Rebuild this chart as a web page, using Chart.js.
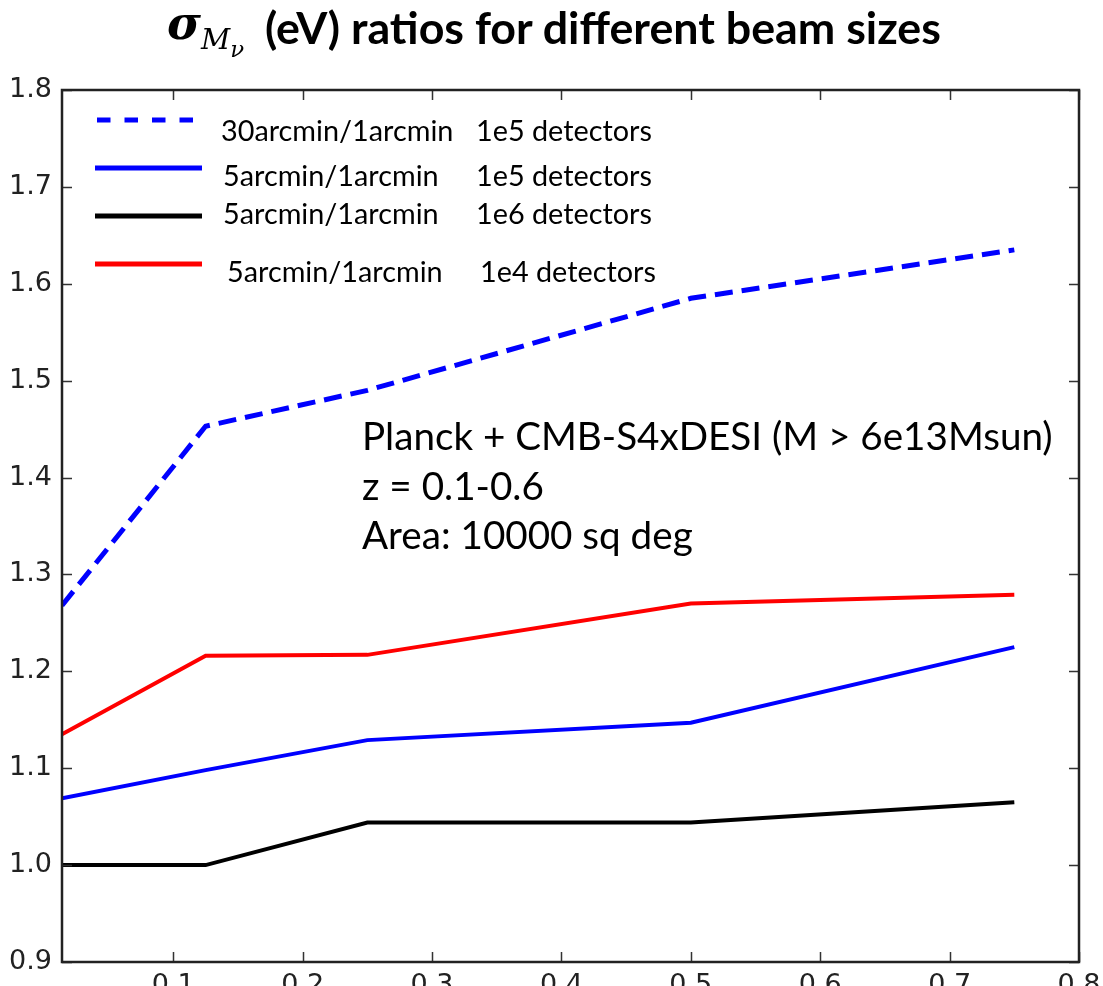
<!DOCTYPE html>
<html>
<head>
<meta charset="utf-8">
<script src="https://cdn.jsdelivr.net/npm/chart.js@4"></script>
<style>
  html, body { margin: 0; padding: 0; background: #fff; overflow: hidden; }
  #wrap { position: relative; width: 1103px; height: 1010px; }
  #title { position: absolute; left: 0; top: 0; width: 1103px; height: 70px; font-family: Lato, sans-serif; font-weight: bold; color: #000; white-space: nowrap; }
  #sym { position: absolute; left: 167px; top: 0px; font-family: "DejaVu Serif", serif; font-size: 46px; line-height: 1; }
  #sym sub { font-size: 0.62em; vertical-align: -0.36em; font-weight: normal; }
  #sym sub sub { font-size: 0.8em; vertical-align: -0.36em; }
  #ttxt { position: absolute; left: 265px; top: 5px; line-height: 1; }
  canvas { position: absolute; left: 0; top: 0; }
</style>
</head>
<body>
<div id="wrap">
  <canvas id="c" width="1103" height="1010"></canvas>
  <div id="title"><span id="sym"><i>σ</i><sub><i>M</i><sub><i>ν</i></sub></sub></span><span id="ttxt">(eV) ratios for different beam sizes</span></div>
</div>
<script>
// beam size x values and sigma ratios
let xVals = [0.014, 0.125, 0.25, 0.5, 0.75];
let ratio30Beam1e5 = [1.268, 1.453, 1.490, 1.585, 1.635];
let ratio5Beam1e5 = [1.069, 1.098, 1.129, 1.147, 1.225];
let ratio5Beam1e6 = [1.000, 1.000, 1.044, 1.044, 1.065];
let ratio5Beam1e4 = [1.135, 1.216, 1.217, 1.270, 1.279];

let beamLabels = ['30arcmin/1arcmin', '5arcmin/1arcmin', '5arcmin/1arcmin', '5arcmin/1arcmin'];
let detectorLabels = ['1e5 detectors', '1e5 detectors', '1e6 detectors', '1e4 detectors'];
let noteLines = ['Planck + CMB-S4xDESI (M > 6e13Msun)', 'z = 0.1-0.6', 'Area: 10000 sq deg'];

let xTicks = [0.1, 0.2, 0.3, 0.4, 0.5, 0.6, 0.7, 0.8];
let yTicks = [0.9, 1.0, 1.1, 1.2, 1.3, 1.4, 1.5, 1.6, 1.7, 1.8];

const pts = arr => arr.map((v, i) => ({x: xVals[i], y: v}));

// font size that makes text span a given width
const mctx = document.createElement('canvas').getContext('2d');
function fitSize(text, width, weight, family) {
    mctx.font = weight + ' 100px ' + family;
    return 100 * width / mctx.measureText(text).width;
}

document.getElementById('ttxt').style.fontSize =
    fitSize('(eV) ratios for different beam sizes', 677, 'bold', 'Lato') + 'px';

// legend drawn by hand, matplotlib style
const legendRows = [
    {lineY: 120, x0: 97, x1: 193, textX: 221, detX: 476, base: 141},
    {lineY: 168, x0: 95, x1: 202, textX: 223, detX: 476, base: 186},
    {lineY: 216, x0: 95, x1: 202, textX: 223, detX: 476, base: 224},
    {lineY: 264, x0: 95, x1: 202, textX: 227, detX: 480, base: 282}
];

const extras = {
    id: 'extras',
    afterDatasetsDraw(chart) {
        const {ctx, chartArea: a, scales: {x, y}} = chart;
        ctx.save();
        // inward ticks on all sides
        ctx.strokeStyle = '#333';
        ctx.lineWidth = 1.5;
        ctx.beginPath();
        x.ticks.forEach(t => {
            const px = Math.round(x.getPixelForValue(t.value)) + 0.5;
            ctx.moveTo(px, a.bottom); ctx.lineTo(px, a.bottom - 10);
            ctx.moveTo(px, a.top); ctx.lineTo(px, a.top + 10);
        });
        y.ticks.forEach(t => {
            const py = Math.round(y.getPixelForValue(t.value)) + 0.5;
            ctx.moveTo(a.left, py); ctx.lineTo(a.left + 10, py);
            ctx.moveTo(a.right, py); ctx.lineTo(a.right - 10, py);
        });
        ctx.stroke();
        // frame
        ctx.strokeStyle = '#222';
        ctx.lineWidth = 2.5;
        ctx.strokeRect(a.left, a.top, a.right - a.left, a.bottom - a.top);

        // legend
        const legSize = fitSize(detectorLabels[0], 176, 'normal', 'Lato');
        chart.data.datasets.forEach((ds, i) => {
            const r = legendRows[i];
            ctx.strokeStyle = ds.borderColor;
            ctx.lineWidth = 5;
            ctx.setLineDash(ds.borderDash ? [13.5, 14] : []);
            ctx.beginPath();
            ctx.moveTo(r.x0, r.lineY); ctx.lineTo(r.x1, r.lineY);
            ctx.stroke();
            ctx.setLineDash([]);
            ctx.fillStyle = '#000';
            ctx.font = legSize + 'px Lato';
            ctx.textBaseline = 'alphabetic';
            ctx.textAlign = 'left';
            ctx.fillText(beamLabels[i], r.textX, r.base);
            ctx.fillText(detectorLabels[i], r.detX, r.base);
        });

        // annotation
        const noteSize = fitSize(noteLines[0], 691, 'normal', 'Lato');
        ctx.font = noteSize + 'px Lato';
        noteLines.forEach((s, i) => ctx.fillText(s, 362, 450 + i * 49.5));
        ctx.restore();
    }
};

const ctx = document.getElementById('c').getContext('2d');
const chart = new Chart(ctx, {
    type: 'line',
    data: {
        datasets: [
            {
                label: beamLabels[0] + '  ' + detectorLabels[0],
                data: pts(ratio30Beam1e5),
                borderColor: '#0000ff',
                borderWidth: 5,
                borderDash: [18, 9]
            },
            {
                label: beamLabels[1] + '  ' + detectorLabels[1],
                data: pts(ratio5Beam1e5),
                borderColor: '#0000ff',
                borderWidth: 4
            },
            {
                label: beamLabels[2] + '  ' + detectorLabels[2],
                data: pts(ratio5Beam1e6),
                borderColor: '#000000',
                borderWidth: 4
            },
            {
                label: beamLabels[3] + '  ' + detectorLabels[3],
                data: pts(ratio5Beam1e4),
                borderColor: '#ff0000',
                borderWidth: 4
            }
        ]
    },
    options: {
        responsive: false,
        animation: false,
        layout: {
            padding: {top: 90, right: 24, left: 0, bottom: 0}
        },
        elements: {
            point: {radius: 0},
            line: {tension: 0, fill: false}
        },
        scales: {
            x: {
                type: 'linear',
                min: 0.014,
                max: 0.8,
                afterBuildTicks: s => { s.ticks = xTicks.map(v => ({value: v})); },
                afterFit: s => { s.height = 48; },
                grid: {display: false},
                border: {display: false},
                ticks: {
                    padding: 0,
                    color: '#222',
                    font: {family: 'DejaVu Sans', size: 27},
                    callback: v => v.toFixed(1)
                }
            },
            y: {
                min: 0.9,
                max: 1.8,
                afterBuildTicks: s => { s.ticks = yTicks.map(v => ({value: v})); },
                afterFit: s => { s.width = 62; },
                grid: {display: false},
                border: {display: false},
                ticks: {
                    padding: 2,
                    color: '#222',
                    font: {family: 'DejaVu Sans', size: 27},
                    callback: v => v.toFixed(1)
                }
            }
        },
        plugins: {
            legend: {display: false},
            tooltip: {enabled: false}
        }
    },
    plugins: [extras]
});
</script>
</body>
</html>
